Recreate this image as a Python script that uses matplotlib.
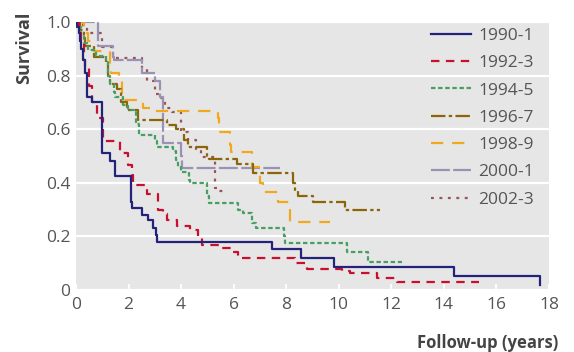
import matplotlib
matplotlib.use("Agg")
import matplotlib.pyplot as plt

plt.rcParams['font.family'] = ['Open Sans', 'DejaVu Sans']

# ---- data ----
labels = ["1990-1", "1992-3", "1994-5", "1996-7", "1998-9", "2000-1", "2002-3"]

t_1990 = [0, 0.05, 0.1, 0.15, 0.2, 0.27, 0.34, 0.42, 0.6, 0.98, 1.3, 1.49, 2.1, 2.15, 2.5, 2.75, 2.92, 3.05, 3.1, 7.46, 8.57, 9.8, 14.37, 17.64]
s_1990 = [1.0, 0.98, 0.96, 0.93, 0.9, 0.86, 0.81, 0.72, 0.70, 0.51, 0.48, 0.425, 0.33, 0.305, 0.28, 0.26, 0.23, 0.205, 0.18, 0.153, 0.12, 0.086, 0.052, 0.02]

t_1992 = [0, 0.1, 0.2, 0.3, 0.35, 0.5, 0.6, 0.79, 1.03, 1.68, 1.98, 2.12, 2.17, 2.7, 3.12, 3.3, 3.45, 3.85, 4.34, 4.65, 4.8, 5.56, 5.94, 6.17, 8.34, 8.8, 10.13, 10.44, 11.47, 12.23, 15.35]
s_1992 = [1.0, 0.96, 0.92, 0.86, 0.83, 0.76, 0.70, 0.64, 0.555, 0.51, 0.465, 0.43, 0.39, 0.36, 0.30, 0.285, 0.26, 0.24, 0.225, 0.20, 0.167, 0.155, 0.14, 0.12, 0.10, 0.08, 0.07, 0.063, 0.046, 0.03, 0.03]

t_1994 = [0, 0.1, 0.2, 0.3, 0.45, 0.75, 1.15, 1.2, 1.3, 1.45, 1.5, 1.78, 1.97, 2.3, 2.4, 3.0, 3.1, 3.7, 3.8, 3.9, 4.0, 4.3, 4.35, 5.0, 5.05, 6.17, 6.36, 6.7, 6.85, 7.9, 7.95, 10.32, 11.12, 12.42]
s_1994 = [1.0, 0.98, 0.95, 0.92, 0.895, 0.875, 0.85, 0.80, 0.77, 0.74, 0.72, 0.69, 0.67, 0.62, 0.58, 0.555, 0.535, 0.52, 0.485, 0.46, 0.44, 0.41, 0.40, 0.35, 0.325, 0.30, 0.287, 0.25, 0.232, 0.20, 0.175, 0.14, 0.105, 0.105]

t_1996 = [0, 0.15, 0.3, 0.35, 0.7, 1.15, 1.2, 1.3, 1.55, 1.7, 1.95, 2.35, 3.45, 3.8, 4.1, 4.25, 5.0, 5.05, 6.13, 6.74, 8.27, 8.35, 8.46, 9.03, 10.25, 11.58]
s_1996 = [1.0, 0.97, 0.94, 0.91, 0.87, 0.85, 0.80, 0.77, 0.75, 0.70, 0.67, 0.635, 0.615, 0.60, 0.56, 0.535, 0.50, 0.49, 0.47, 0.435, 0.40, 0.37, 0.35, 0.328, 0.298, 0.298]

t_1998 = [0, 0.3, 0.45, 0.7, 1.3, 1.35, 1.65, 1.75, 2.55, 2.8, 5.41, 5.45, 5.87, 5.9, 6.7, 7.0, 7.12, 7.7, 8.15, 9.68]
s_1998 = [1.0, 0.96, 0.93, 0.89, 0.83, 0.81, 0.78, 0.71, 0.68, 0.667, 0.64, 0.59, 0.54, 0.515, 0.46, 0.40, 0.366, 0.33, 0.254, 0.254]

t_2000 = [0, 0.84, 1.4, 1.45, 2.5, 3.0, 3.2, 3.31, 4.0, 4.05, 7.77]
s_2000 = [1.0, 0.91, 0.87, 0.86, 0.81, 0.78, 0.72, 0.55, 0.5, 0.455, 0.455]

t_2002 = [0, 0.25, 0.4, 1.0, 1.4, 2.5, 2.7, 3.0, 3.2, 3.4, 3.65, 4.0, 4.25, 4.55, 4.75, 5.3, 5.45, 5.6]
s_2002 = [1.0, 0.98, 0.96, 0.905, 0.865, 0.83, 0.78, 0.73, 0.715, 0.68, 0.665, 0.59, 0.56, 0.52, 0.497, 0.38, 0.37, 0.37]

x_ticks = [0, 2, 4, 6, 8, 10, 12, 14, 16, 18]
y_ticks = [0, 0.2, 0.4, 0.6, 0.8, 1.0]
y_ticklabels = ["0", "0.2", "0.4", "0.6", "0.8", "1.0"]

series = [(t_1990, s_1990), (t_1992, s_1992), (t_1994, s_1994), (t_1996, s_1996),
          (t_1998, s_1998), (t_2000, s_2000), (t_2002, s_2002)]

colors = ['#23237b', '#c8102e', '#46a064', '#8b6508', '#f2a81d', '#9a92b5', '#9b5353']
styles = ['-', (0, (3.8, 2.9)), (0, (2.0, 1.2)), (0, (6.5, 1.5, 1.5, 1.5)),
          (0, (5.5, 4.0)), (0, (8.5, 1.5)), (0, (1.3, 2.5))]

fig = plt.figure(figsize=(5.74, 3.52), dpi=100)
ax = fig.add_axes([76/574, 1-290/352, (549-76)/574, (290-22)/352])
ax.set_facecolor('#e6e6e6')
for sp in ax.spines.values():
    sp.set_visible(False)

ax.set_xlim(0, 18)
ax.set_ylim(0, 1)
ax.set_xticks(x_ticks)
ax.set_yticks(y_ticks)
ax.set_yticklabels(y_ticklabels)
ax.grid(axis='y', color='white', linewidth=1.6)
ax.set_axisbelow(True)
ax.tick_params(axis='x', direction='in', color='white', length=4, width=1.3,
               labelsize=12.5, labelcolor='#555555', pad=5)
ax.tick_params(axis='y', length=0, labelsize=12.5, labelcolor='#555555', pad=4)

handles = []
for i in range(len(series) - 1, -1, -1):
    t, s = series[i]
    h, = ax.step(t, s, where='post', color=colors[i], linestyle=styles[i],
                 linewidth=1.6, zorder=3 + (len(series) - i))
    handles.append(h)
handles = handles[::-1]

leg = ax.legend(handles, labels, loc='upper right', frameon=False,
                fontsize=12.5, handlelength=2.3, handletextpad=0.4,
                labelspacing=0.64, borderaxespad=0.2,
                bbox_to_anchor=(0.99, 1.017))
for txt in leg.get_texts():
    txt.set_color('#555555')

fig.text(24/574, 1-48/352, "Survival", rotation=90, ha='center', va='center',
         fontsize=13, fontweight='bold', color='#444444')
fig.text(558/574, 1-343/352, "Follow-up (years)", ha='right', va='center',
         fontsize=12, fontweight='bold', color='#444444')

fig.savefig("out.png", dpi=100)
